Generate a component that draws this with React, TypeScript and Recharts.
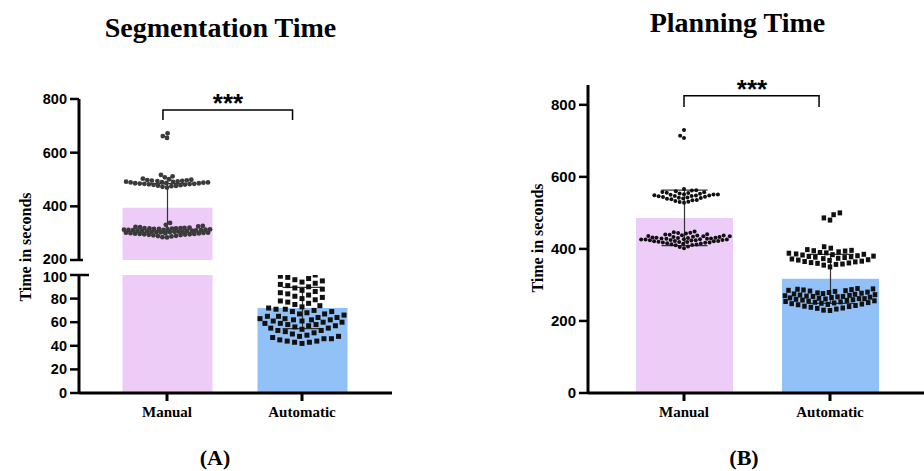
import React from 'react';
import { ComposedChart, Bar, Cell, ErrorBar, Scatter, Line, XAxis, YAxis, ReferenceLine } from 'recharts';

// ---------- data ----------
const groups = ['Manual', 'Automatic'];
const barColors = ['#EECCF8', '#92C1F8'];

const segMeans = [395, 72];
const segSD = [90, 17.5];
const planMeans = [486, 317];
const planSD = [77, 68];

const segManual = [
  318, 312, 305, 322, 298, 309, 315, 301, 294, 327, 311, 304, 319, 296, 308, 289, 316, 323, 300, 306,
  313, 297, 285, 331, 310, 303, 292, 317, 320, 299, 307, 314, 295, 302, 321, 288, 311, 305, 318, 297,
  309, 284, 325, 300, 313, 306, 293, 316, 302, 338, 308, 296, 319, 290, 312, 304,
  492, 486, 497, 479, 484, 501, 489, 473, 494, 482, 508, 477, 490, 486, 499, 481, 495, 470, 512, 488,
  475, 493, 484, 498, 480, 491, 503, 487, 476, 496, 485, 489, 517, 483,
  662, 655, 672,
];
const segAuto = [
  99, 96, 94, 100, 97, 95, 98, 93, 91, 89, 92, 88, 90, 86, 84, 87, 85, 82, 80, 83, 79, 81, 78, 76, 77,
  74, 73, 75, 71, 72, 70, 69, 68, 67, 66, 64, 65, 63, 62, 62, 61, 60, 60, 59, 58, 57, 56, 55, 54, 53,
  52, 50, 51, 49, 48, 47, 46, 45, 44, 43, 42, 63, 67, 71, 59, 55, 48, 44, 61, 65, 69, 57, 53, 46, 43,
  62, 64, 58,
];
const planManual = [
  428, 432, 419, 425, 437, 441, 415, 422, 430, 427, 418, 435, 445, 412, 424, 431, 407, 438, 421, 426,
  433, 416, 429, 443, 410, 423, 436, 420, 427, 434, 448, 414, 425, 430, 405, 439, 422, 418, 431, 426,
  444, 413, 428, 435, 419, 424, 402, 437, 429, 421, 433, 417, 440, 426, 411, 446,
  548, 552, 541, 556, 538, 560, 545, 533, 551, 547, 563, 530, 549, 555, 543, 528, 558, 546, 536, 553,
  566, 540, 550, 544, 531, 557, 548, 539, 554, 562, 542, 535, 551, 547,
  708, 714, 730,
];
const planAuto = [
  372, 388, 365, 395, 358, 380, 402, 368, 376, 390, 355, 384, 361, 398, 374, 370, 392, 350, 381, 366,
  386, 378, 406, 362, 394, 373, 357, 383, 369, 389, 377, 364, 396, 379, 360, 385,
  262, 248, 275, 285, 255, 268, 240, 290, 258, 272, 245, 280, 233, 265, 252, 288, 260, 270, 243, 278,
  256, 230, 283, 263, 250, 274, 238, 286, 266, 253, 279, 246, 261, 271, 235, 284, 257, 269, 249, 277,
  241, 264, 289, 254, 273, 236, 282, 259, 267, 247, 276, 229, 262, 251, 287, 268,
  480, 486, 495, 500,
];

// ---------- layout ----------
const FONT_SERIF = '"Liberation Serif", "Times New Roman", serif';
const FONT_SANS = '"Liberation Sans", Arial, sans-serif';

const L_X_DOMAIN: [number, number] = [-88 / 135, 1 + 90 / 135];
const L_PX_X = 135;
const R_X_DOMAIN: [number, number] = [-96 / 146, 1 + 94 / 146];
const R_PX_X = 146;
const TOP_PX_Y = 161 / 600;
const BOT_PX_Y = 118 / 100;
const R_PX_Y = 308 / 855;

// simple deterministic beeswarm (pixel offsets)
function swarm(values: number[], pxY: number, minDist: number, maxHalf: number): number[] {
  const order = values.map((v, i) => ({ v, i })).sort((a, b) => a.v - b.v || a.i - b.i);
  const placed: { x: number; y: number }[] = [];
  const out: number[] = new Array(values.length).fill(0);
  const d2 = minDist * minDist;
  for (const { v, i } of order) {
    const y = v * pxY;
    const near = placed.filter((p) => Math.abs(p.y - y) < minDist);
    const cands = [0];
    for (const p of near) {
      const dy = Math.abs(p.y - y);
      const dx = Math.sqrt(d2 - dy * dy);
      cands.push(p.x + dx, p.x - dx);
    }
    cands.sort((a, b) => Math.abs(a) - Math.abs(b) || a - b);
    let chosen: number | null = null;
    for (const c of cands) {
      if (Math.abs(c) > maxHalf) continue;
      if (near.every((p) => (p.x - c) ** 2 + (p.y - y) ** 2 >= d2 - 1e-6)) {
        chosen = c;
        break;
      }
    }
    if (chosen === null) {
      let best = 0;
      let bestD = -1;
      for (let c = -maxHalf; c <= maxHalf; c += 0.5) {
        let m = Infinity;
        for (const p of near) m = Math.min(m, (p.x - c) ** 2 + (p.y - y) ** 2);
        if (m > bestD) {
          bestD = m;
          best = c;
        }
      }
      chosen = best;
    }
    placed.push({ x: chosen, y });
    out[i] = chosen;
  }
  return out;
}

function points(values: number[], group: number, pxY: number, pxX: number, minDist: number, maxHalf: number) {
  const off = swarm(values, pxY, minDist, maxHalf);
  return values.map((v, i) => ({ x: group + off[i] / pxX, y: v }));
}

const segManualPts = points(segManual, 0, TOP_PX_Y, L_PX_X, 4.6, 43);
const segAutoPts = points(segAuto, 1, BOT_PX_Y, L_PX_X, 7.5, 42);
const planManualPts = points(planManual, 0, R_PX_Y, R_PX_X, 4.4, 46);
const planAutoPts = points(planAuto, 1, R_PX_Y, R_PX_X, 6.5, 45);

const segData = groups.map((g, i) => ({ x: i, name: g, mean: segMeans[i], err: [segSD[i], segSD[i]] }));
const planData = groups.map((g, i) => ({ x: i, name: g, mean: planMeans[i], err: [planSD[i], planSD[i]] }));

const segBracket = [
  { x: -0.03, b: 722 },
  { x: -0.03, b: 759 },
  { x: 0.93, b: 759 },
  { x: 0.93, b: 722 },
];
const planBracket = [
  { x: 0, b: 794 },
  { x: 0, b: 825 },
  { x: 0.925, b: 825 },
  { x: 0.925, b: 794 },
];

const circleShape = (r: number, fill: string) => (p: any) =>
  p.cx == null ? <g /> : <circle cx={p.cx} cy={p.cy} r={r} fill={fill} />;
const squareShape = (w: number, h: number, fill: string) => (p: any) =>
  p.cx == null ? <g /> : <rect x={p.cx - w / 2} y={p.cy - h / 2} width={w} height={h} fill={fill} />;

const axisStroke = { stroke: '#000', strokeWidth: 3 };
const yTickLine = { stroke: '#000', strokeWidth: 2.5 };
const yTick = { fill: '#000', fontSize: 15, fontWeight: 700, fontFamily: FONT_SANS };
const xTick = { fill: '#000', fontSize: 15, fontWeight: 700, fontFamily: FONT_SERIF };

// y tick for the broken axis: the labels next to the break are nudged apart a little
const brokenTick = (edgeValue: number, shift: number) => (p: any) => (
  <text
    x={p.x}
    y={p.y + (p.payload.value === edgeValue ? shift : 0)}
    textAnchor="end"
    dominantBaseline="central"
    fill="#000"
    fontSize={14.5}
    fontWeight={700}
    fontFamily={FONT_SANS}
  >
    {p.payload.value}
  </text>
);

function bars(data: any[], size: number, capHalf: number) {
  return (
    <Bar dataKey="mean" xAxisId="cat" barSize={size} isAnimationActive={false}>
      {data.map((d, i) => (
        <Cell key={i} fill={barColors[i]} />
      ))}
      <ErrorBar dataKey="err" width={capHalf} stroke="#333" strokeWidth={1.2} direction="y" />
    </Bar>
  );
}

function hiddenPtsAxis(domain: [number, number]) {
  return <XAxis xAxisId="pts" dataKey="x" type="number" domain={domain} allowDataOverflow hide />;
}

export default function App() {
  return (
    <div style={{ position: 'absolute', left: 0, top: 0, width: 924, height: 471, background: '#fff' }}>
      {/* Left panel, upper segment */}
      <div style={{ position: 'absolute', left: 0, top: 0 }}>
        <ComposedChart width={400} height={270} data={segData} margin={{ top: 99, right: 8, bottom: 10, left: 0 }}>
          <XAxis xAxisId="cat" dataKey="x" type="number" domain={L_X_DOMAIN} ticks={[0, 1]} allowDataOverflow hide />
          {hiddenPtsAxis(L_X_DOMAIN)}
          <YAxis
            type="number"
            domain={[200, 800]}
            ticks={[200, 400, 600, 800]}
            interval={0}
            allowDataOverflow
            width={79}
            tickSize={9}
            tickMargin={3}
            axisLine={axisStroke}
            tickLine={yTickLine}
            tick={brokenTick(200, -1.5)}
          />
          {bars(segData, 90, 20)}
          <Scatter xAxisId="pts" data={segManualPts} dataKey="y" isAnimationActive={false} shape={circleShape(2.4, '#3a3a3a')} />
          <Line xAxisId="pts" data={segBracket} dataKey="b" type="linear" stroke="#000" strokeWidth={1.5} dot={false} isAnimationActive={false} />
          <ReferenceLine
            xAxisId="pts"
            segment={[{ x: L_X_DOMAIN[0], y: 200 }, { x: L_X_DOMAIN[0] + 4 / L_PX_X, y: 200 }]}
            stroke="#000"
            strokeWidth={2.5}
            ifOverflow="visible"
          />
        </ComposedChart>
      </div>
      {/* Left panel, lower segment */}
      <div style={{ position: 'absolute', left: 0, top: 262 }}>
        <ComposedChart width={400} height={171} data={segData} margin={{ top: 13, right: 8, bottom: 0, left: 0 }}>
          <XAxis
            xAxisId="cat"
            dataKey="x"
            type="number"
            domain={L_X_DOMAIN}
            ticks={[0, 1]}
            allowDataOverflow
            interval={0}
            tickFormatter={(v: number) => groups[v] ?? ''}
            height={40}
            tickSize={8}
            tickMargin={5}
            axisLine={axisStroke}
            tickLine={axisStroke}
            tick={xTick}
          />
          {hiddenPtsAxis(L_X_DOMAIN)}
          <YAxis
            type="number"
            domain={[0, 100]}
            ticks={[0, 20, 40, 60, 80, 100]}
            interval={0}
            allowDataOverflow
            width={79}
            tickSize={9}
            tickMargin={3}
            axisLine={axisStroke}
            tickLine={yTickLine}
            tick={brokenTick(100, 1.5)}
          />
          {bars(segData, 90, 20)}
          <Scatter xAxisId="pts" data={segAutoPts} dataKey="y" isAnimationActive={false} shape={squareShape(5, 5, '#111')} />
          <ReferenceLine
            xAxisId="pts"
            segment={[{ x: L_X_DOMAIN[0], y: 100 }, { x: L_X_DOMAIN[0] + 10 / L_PX_X, y: 100 }]}
            stroke="#000"
            strokeWidth={2.5}
            ifOverflow="visible"
          />
        </ComposedChart>
      </div>
      {/* Right panel */}
      <div style={{ position: 'absolute', left: 500, top: 0 }}>
        <ComposedChart width={424} height={433} data={planData} margin={{ top: 85, right: 0, bottom: 0, left: 0 }}>
          <XAxis
            xAxisId="cat"
            dataKey="x"
            type="number"
            domain={R_X_DOMAIN}
            ticks={[0, 1]}
            allowDataOverflow
            interval={0}
            tickFormatter={(v: number) => groups[v] ?? ''}
            height={40}
            tickSize={8}
            tickMargin={5}
            axisLine={axisStroke}
            tickLine={axisStroke}
            tick={xTick}
          />
          {hiddenPtsAxis(R_X_DOMAIN)}
          <YAxis
            type="number"
            domain={[0, 855]}
            ticks={[0, 200, 400, 600, 800]}
            interval={0}
            allowDataOverflow
            width={88}
            tickSize={9}
            tickMargin={3}
            axisLine={axisStroke}
            tickLine={yTickLine}
            tick={yTick}
          />
          {bars(planData, 97, 23)}
          <Scatter xAxisId="pts" data={planManualPts} dataKey="y" isAnimationActive={false} shape={circleShape(2, '#111')} />
          <Scatter xAxisId="pts" data={planAutoPts} dataKey="y" isAnimationActive={false} shape={squareShape(4.5, 5, '#111')} />
          <Line xAxisId="pts" data={planBracket} dataKey="b" type="linear" stroke="#000" strokeWidth={1.5} dot={false} isAnimationActive={false} />
        </ComposedChart>
      </div>
      {/* Annotation text */}
      <svg width={924} height={471} style={{ position: 'absolute', left: 0, top: 0, pointerEvents: 'none' }}>
        <g fontFamily={FONT_SERIF} fontWeight={700} fill="#000">
          <text x={220.5} y={37} fontSize={28} textAnchor="middle">Segmentation Time</text>
          <text x={737.5} y={32} fontSize={28} textAnchor="middle">Planning Time</text>
          <text x={25} y={247} fontSize={16} textAnchor="middle" dominantBaseline="central" transform="rotate(-90 25 247)">
            Time in seconds
          </text>
          <text x={537} y={238} fontSize={16} textAnchor="middle" dominantBaseline="central" transform="rotate(-90 537 238)">
            Time in seconds
          </text>
          <text x={215} y={465} fontSize={22} textAnchor="middle">(A)</text>
          <text x={744} y={465} fontSize={22} textAnchor="middle">(B)</text>
        </g>
        <g fontFamily={FONT_SANS} fontWeight={700} fill="#000" fontSize={26}>
          <text x={228} y={112} textAnchor="middle">***</text>
          <text x={752} y={98} textAnchor="middle">***</text>
        </g>
      </svg>
    </div>
  );
}
